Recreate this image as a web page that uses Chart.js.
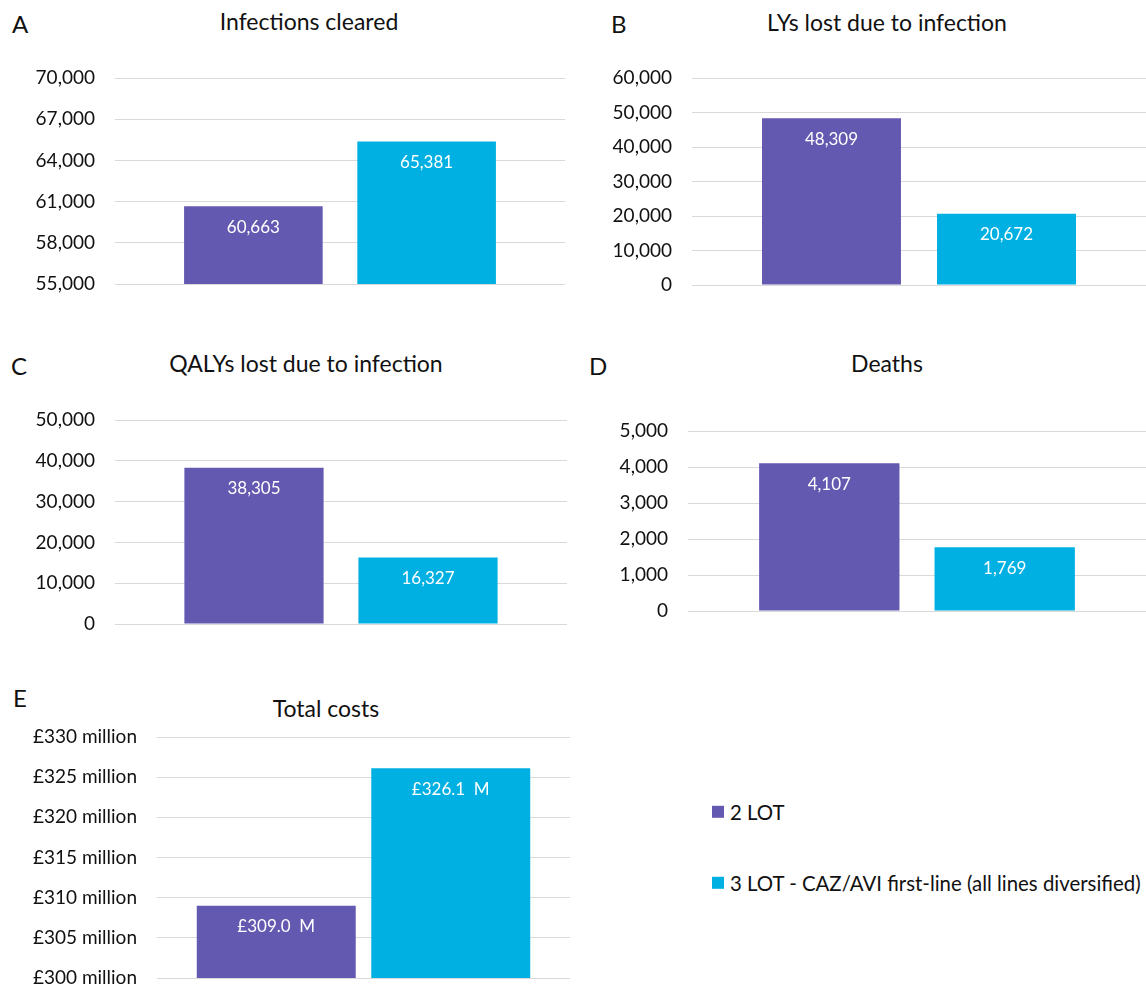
<!DOCTYPE html>
<html>
<head>
<meta charset="utf-8">
<script src="https://cdn.jsdelivr.net/npm/chart.js@4.4.1/dist/chart.umd.min.js"></script>
<style>
  html, body { margin: 0; padding: 0; background: #fff; }
  body { width: 1146px; height: 990px; position: relative; overflow: hidden; font-family: Lato, "Open Sans", sans-serif; color: #111; }
  .box { position: absolute; }
  .letter { position: absolute; font-size: 24px; line-height: 1; transform: translateY(-50%); }
  .title { position: absolute; font-size: 23px; line-height: 1; white-space: nowrap; transform: translate(-50%, -50%); }
  .legend { position: absolute; font-size: 20.4px; line-height: 1; white-space: nowrap; display: flex; align-items: center; transform: translateY(-50%); }
  .legend i { display: inline-block; width: 12px; height: 12px; margin-right: 6px; }
</style>
</head>
<body>
<script>
// Series
const seriesNames = ['2 LOT', '3 LOT - CAZ/AVI first-line (all lines diversified)'];
const seriesColors = ['#6459B0', '#00B0E2'];
const categories = [''];

// Values per panel: [2 LOT, 3 LOT]
const infectionsCleared = [60663, 65381];
const lysLost = [48309, 20672];
const qalysLost = [38305, 16327];
const deaths = [4107, 1769];
const totalCostsMillions = [309.0, 326.1];

// Value axes: [min, max, step]
const infectionsAxis = [55000, 70000, 3000];
const lysAxis = [0, 60000, 10000];
const qalysAxis = [0, 50000, 10000];
const deathsAxis = [0, 5000, 1000];
const costsAxis = [300, 330, 5];

// Panel letters and titles
const panelLetters = ['A', 'B', 'C', 'D', 'E'];
const panelTitles = ['Infections cleared', 'LYs lost due to infection', 'QALYs lost due to infection', 'Deaths', 'Total costs'];

const fmtCount = v => Math.round(v).toLocaleString('en-US');
const fmtCostTick = v => '£' + v + ' million';
const fmtCostLabel = v => '£' + v.toFixed(1) + '  M';

// Page layout: canvas box, plot area (page coordinates), bar spacing, title/letter anchors
const layout = [
  { canvas: [0, 45, 573, 270],   plot: [115, 565, 78, 284],  cat: 0.77,  bar: 0.80,  letter: [12, 24],  title: [309, 21] },
  { canvas: [573, 45, 573, 270], plot: [692, 1146, 78, 285], cat: 0.771, bar: 0.794, letter: [611, 24], title: [887, 22] },
  { canvas: [0, 390, 573, 260],  plot: [115, 567, 420, 624], cat: 0.77,  bar: 0.80,  letter: [11, 366], title: [306, 363] },
  { canvas: [573, 390, 573, 250],plot: [688, 1146, 431, 611],cat: 0.766, bar: 0.80,  letter: [589, 366], title: [887, 363] },
  { canvas: [0, 715, 600, 275],  plot: [157, 570, 737, 978], cat: 0.845, bar: 0.911, letter: [13, 698], title: [326, 708] }
];

const panels = [
  { values: infectionsCleared, axis: infectionsAxis, tick: fmtCount, label: fmtCount },
  { values: lysLost, axis: lysAxis, tick: fmtCount, label: fmtCount },
  { values: qalysLost, axis: qalysAxis, tick: fmtCount, label: fmtCount },
  { values: deaths, axis: deathsAxis, tick: fmtCount, label: fmtCount },
  { values: totalCostsMillions, axis: costsAxis, tick: fmtCostTick, label: fmtCostLabel }
];

// White value labels inside the top of each bar
const valueLabels = {
  id: 'valueLabels',
  afterDatasetsDraw(chart, args, opts) {
    const ctx = chart.ctx;
    ctx.save();
    ctx.fillStyle = '#ffffff';
    ctx.font = '17px Lato, "Open Sans", sans-serif';
    ctx.textAlign = 'center';
    ctx.textBaseline = 'middle';
    chart.data.datasets.forEach((ds, i) => {
      chart.getDatasetMeta(i).data.forEach((el, j) => {
        ctx.fillText(opts.format(ds.data[j]), el.x, el.y + 21);
      });
    });
    ctx.restore();
  }
};

function addText(cls, text, x, y) {
  const d = document.createElement('div');
  d.className = cls;
  d.textContent = text;
  d.style.left = x + 'px';
  d.style.top = y + 'px';
  document.body.appendChild(d);
}

panels.forEach((p, k) => {
  const L = layout[k];
  const [cx, cy, cw, ch] = L.canvas;
  const [pl, pr, pt, pb] = L.plot;

  addText('letter', panelLetters[k], L.letter[0], L.letter[1]);
  addText('title', panelTitles[k], L.title[0], L.title[1]);

  const wrap = document.createElement('div');
  wrap.className = 'box';
  wrap.style.left = cx + 'px';
  wrap.style.top = cy + 'px';
  wrap.style.width = cw + 'px';
  wrap.style.height = ch + 'px';
  const canvas = document.createElement('canvas');
  wrap.appendChild(canvas);
  document.body.appendChild(wrap);

  new Chart(canvas, {
    type: 'bar',
    data: {
      labels: categories,
      datasets: seriesNames.map((name, i) => ({
        label: name,
        data: [p.values[i]],
        backgroundColor: seriesColors[i],
        borderWidth: 0,
        categoryPercentage: L.cat,
        barPercentage: L.bar
      }))
    },
    options: {
      responsive: true,
      maintainAspectRatio: false,
      animation: false,
      devicePixelRatio: 1,
      layout: {
        padding: { left: 0, right: cx + cw - pr, top: pt - cy, bottom: cy + ch - pb }
      },
      plugins: {
        legend: { display: false },
        tooltip: { enabled: false },
        valueLabels: { format: p.label }
      },
      scales: {
        x: { display: false },
        y: {
          min: p.axis[0],
          max: p.axis[1],
          border: { display: false },
          grid: { color: '#D9D9D9', lineWidth: 1, drawTicks: false },
          ticks: {
            stepSize: p.axis[2],
            padding: 20,
            color: '#111',
            font: { family: 'Lato, "Open Sans", sans-serif', size: 19 },
            callback: v => p.tick(v)
          },
          afterFit: scale => {
            // fixed label column; the layout padding already leaves room for label overhang
            scale.width = pl - cx;
            scale.paddingTop = 0;
            scale.paddingBottom = 0;
          }
        }
      }
    },
    plugins: [valueLabels]
  });
});

// Legend beside the cost panel
const legendRows = [811.5, 882.5];
seriesNames.forEach((name, i) => {
  const d = document.createElement('div');
  d.className = 'legend';
  d.style.left = '712px';
  d.style.top = legendRows[i] + 'px';
  const sw = document.createElement('i');
  sw.style.background = seriesColors[i];
  d.appendChild(sw);
  d.appendChild(document.createTextNode(name));
  document.body.appendChild(d);
});
</script>
</body>
</html>
